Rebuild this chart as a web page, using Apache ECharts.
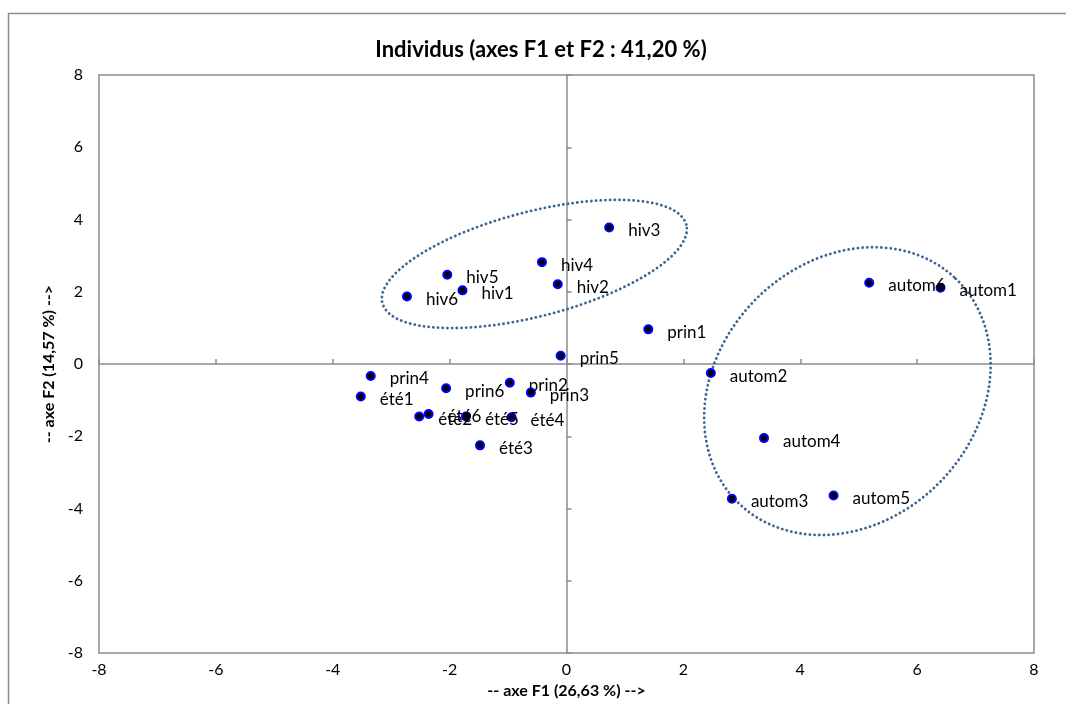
<!DOCTYPE html>
<html>
<head>
<meta charset="utf-8">
<script src="https://cdn.jsdelivr.net/npm/echarts@6/dist/echarts.min.js"></script>
<style>
html,body{margin:0;padding:0;background:#fff;}
#chart{width:1066px;height:704px;}
</style>
</head>
<body>
<div id="chart"></div>
<script>
// Observations (F1, F2)
const names = ['hiv1','hiv2','hiv3','hiv4','hiv5','hiv6',
  'prin1','prin2','prin3','prin4','prin5','prin6',
  'été1','été2','été3','été4','été5','été6',
  'autom1','autom2','autom3','autom4','autom5','autom6'];
const f1 = [-1.78,-0.15,0.73,-0.42,-2.04,-2.73,
  1.40,-0.97,-0.61,-3.35,-0.10,-2.06,
  -3.52,-2.52,-1.48,-0.94,-1.72,-2.36,
  6.40,2.47,2.83,3.38,4.57,5.18];
const f2 = [2.04,2.21,3.78,2.82,2.47,1.87,
  0.96,-0.52,-0.79,-0.33,0.23,-0.67,
  -0.90,-1.45,-2.25,-1.47,-1.45,-1.38,
  2.11,-0.25,-3.73,-2.05,-3.64,2.25];

// Axis ticks
const axisMin = -8, axisMax = 8, axisStep = 2;

// Group ellipses: center, semi-axis vector U, semi-axis vector V (data units)
const ellipseHiv = {c:[-0.55,2.77], u:[2.60,1.09], v:[-0.230,1.40]};
const ellipseAutom = {c:[4.807,-0.75], u:[1.824,3.159], v:[-1.638,2.425]};

function ellipsePoints(e){
  const pts = [];
  const n = 160;
  for(let i=0;i<=n;i++){
    const t = 2*Math.PI*i/n;
    pts.push([e.c[0]+e.u[0]*Math.cos(t)+e.v[0]*Math.sin(t),
              e.c[1]+e.u[1]*Math.cos(t)+e.v[1]*Math.sin(t)]);
  }
  return pts;
}

const scatterData = names.map((n,i)=>({name:n, value:[f1[i], f2[i]]}));
const FONT = 'Lato, "Open Sans", sans-serif';

const chart = echarts.init(document.getElementById('chart'), null, {renderer:'canvas'});
const ellipseStyle = {color:'#3c6592', width:2.8, type:[0.1,4.6], cap:'round'};
chart.setOption({
  backgroundColor:'#ffffff',
  animation:false,
  title:{
    text:'Individus (axes F1 et F2 : 41,20 %)',
    left:536, top:34, textAlign:'center',
    textStyle:{fontFamily:FONT, fontWeight:'bold', fontSize:22, color:'#000'}
  },
  graphic:[{
    type:'rect', shape:{x:8.5,y:13.5,width:1200,height:800},
    style:{fill:null, stroke:'#8c8c8c', lineWidth:1.5}, silent:true, z:-1
  }],
  grid:{left:99, top:75, width:935, height:584, show:true, borderColor:'#8c8c8c', borderWidth:1.5, backgroundColor:'transparent'},
  xAxis:[{
    type:'value', min:axisMin, max:axisMax, interval:axisStep,
    position:'bottom',
    axisLine:{show:false, onZero:false}, axisTick:{show:false}, splitLine:{show:false},
    axisLabel:{fontFamily:FONT, fontSize:16, color:'#000', margin:9},
    name:'-- axe F1 (26,63 %) -->', nameLocation:'middle', nameGap:26,
    nameTextStyle:{fontFamily:FONT, fontWeight:'bold', fontSize:16, color:'#000'}
  },{
    type:'value', min:axisMin, max:axisMax, interval:axisStep,
    axisLine:{show:true, onZero:true, onZeroAxisIndex:0, lineStyle:{color:'#8c8c8c', width:1.5}},
    axisTick:{show:true, length:5, lineStyle:{color:'#8c8c8c', width:1.5}},
    axisLabel:{show:false}, splitLine:{show:false}
  }],
  yAxis:[{
    type:'value', min:axisMin, max:axisMax, interval:axisStep,
    position:'left',
    axisLine:{show:false, onZero:false}, axisTick:{show:false}, splitLine:{show:false},
    axisLabel:{fontFamily:FONT, fontSize:16, color:'#000', margin:16},
    name:'-- axe F2 (14,57 %) -->', nameLocation:'middle', nameGap:38,
    nameTextStyle:{fontFamily:FONT, fontWeight:'bold', fontSize:16, color:'#000'}
  },{
    type:'value', min:axisMin, max:axisMax, interval:axisStep,
    axisLine:{show:true, onZero:true, onZeroAxisIndex:0, lineStyle:{color:'#8c8c8c', width:1.5}},
    axisTick:{show:true, length:5, lineStyle:{color:'#8c8c8c', width:1.5}},
    axisLabel:{show:false}, splitLine:{show:false}
  }],
  series:[{
    type:'line', xAxisIndex:0, yAxisIndex:0, data:ellipsePoints(ellipseHiv),
    showSymbol:false, smooth:false, lineStyle:ellipseStyle, silent:true, z:1
  },{
    type:'line', xAxisIndex:0, yAxisIndex:0, data:ellipsePoints(ellipseAutom),
    showSymbol:false, smooth:false, lineStyle:ellipseStyle, silent:true, z:1
  },{
    type:'scatter', xAxisIndex:0, yAxisIndex:0, data:scatterData,
    symbol:'circle', symbolSize:8,
    itemStyle:{color:'#000000', borderColor:'#0000ff', borderWidth:2, opacity:1},
    label:{show:true, position:'right', distance:14, formatter:'{b}',
      fontFamily:FONT, fontSize:17, color:'#000', offset:[0,3]},
    z:3
  }]
});
</script>
</body>
</html>
